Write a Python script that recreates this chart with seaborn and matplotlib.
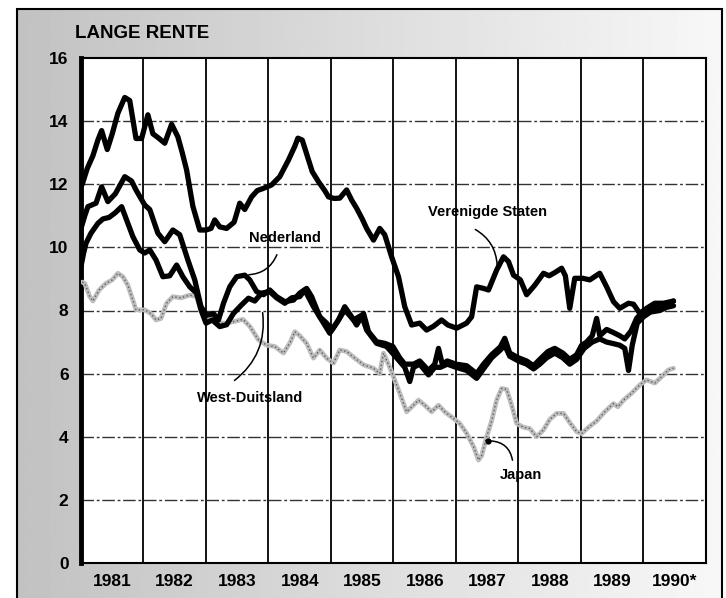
import numpy as np
import pandas as pd
import matplotlib
matplotlib.use('Agg')
import matplotlib.pyplot as plt
import seaborn as sns
from matplotlib.patches import Rectangle

# lange rente (%)
us_t = [1981.02, 1981.10, 1981.19, 1981.27, 1981.33, 1981.42, 1981.50, 1981.59, 1981.70, 1981.78,
        1981.88, 1981.97, 1982.07, 1982.15, 1982.25, 1982.34, 1982.45, 1982.55, 1982.62, 1982.69,
        1982.79, 1982.90, 1983.00, 1983.08, 1983.14, 1983.22, 1983.33, 1983.45, 1983.54, 1983.62,
        1983.73, 1983.82, 1983.92, 1984.05, 1984.18, 1984.32, 1984.42, 1984.47, 1984.54, 1984.62,
        1984.70, 1984.80, 1984.90, 1984.96, 1985.05, 1985.14, 1985.25, 1985.33, 1985.41, 1985.50,
        1985.57, 1985.68, 1985.78, 1985.86, 1985.97, 1986.08, 1986.18, 1986.29, 1986.42, 1986.53,
        1986.64, 1986.77, 1986.87, 1987.01, 1987.17, 1987.25, 1987.33, 1987.44, 1987.52, 1987.65,
        1987.76, 1987.84, 1987.92, 1988.03, 1988.13, 1988.26, 1988.40, 1988.49, 1988.58, 1988.69,
        1988.75, 1988.82, 1988.90, 1989.03, 1989.14, 1989.30, 1989.41, 1989.52, 1989.62, 1989.76,
        1989.84, 1989.94, 1990.05, 1990.18, 1990.32, 1990.48]
us_v = [12.0, 12.5, 12.9, 13.4, 13.7, 13.1, 13.6, 14.25, 14.75, 14.65,
        13.45, 13.45, 14.2, 13.6, 13.45, 13.3, 13.9, 13.5, 13.0, 12.45,
        11.3, 10.55, 10.55, 10.6, 10.87, 10.65, 10.6, 10.8, 11.4, 11.2,
        11.6, 11.8, 11.87, 11.98, 12.24, 12.77, 13.2, 13.46, 13.4, 12.9,
        12.4, 12.08, 11.8, 11.6, 11.55, 11.56, 11.82, 11.5, 11.24, 10.9,
        10.6, 10.23, 10.6, 10.4, 9.7, 9.07, 8.12, 7.54, 7.6, 7.38,
        7.5, 7.7, 7.54, 7.44, 7.6, 7.8, 8.75, 8.7, 8.65, 9.28,
        9.7, 9.55, 9.12, 8.97, 8.5, 8.8, 9.18, 9.1, 9.2, 9.34,
        9.1, 8.07, 9.02, 9.02, 8.97, 9.18, 8.75, 8.28, 8.07, 8.23,
        8.2, 7.91, 8.07, 8.23, 8.23, 8.3]

nl_t = [1981.00, 1981.06, 1981.11, 1981.24, 1981.33, 1981.43, 1981.55, 1981.70, 1981.81, 1981.88,
        1982.02, 1982.10, 1982.23, 1982.34, 1982.47, 1982.58, 1982.71, 1982.82, 1982.92, 1983.01,
        1983.12, 1983.20, 1983.28, 1983.38, 1983.49, 1983.62, 1983.70, 1983.81, 1983.92, 1984.02,
        1984.13, 1984.26, 1984.40, 1984.50, 1984.61, 1984.69, 1984.82, 1984.93, 1985.01, 1985.12,
        1985.22, 1985.33, 1985.41, 1985.52, 1985.60, 1985.73, 1985.86, 1985.99, 1986.10, 1986.18,
        1986.32, 1986.42, 1986.56, 1986.66, 1986.72, 1986.78, 1986.86, 1987.00, 1987.17, 1987.33,
        1987.44, 1987.57, 1987.71, 1987.78, 1987.86, 1988.00, 1988.13, 1988.24, 1988.34, 1988.47,
        1988.58, 1988.71, 1988.82, 1988.93, 1989.01, 1989.09, 1989.18, 1989.25, 1989.30, 1989.41,
        1989.52, 1989.62, 1989.70, 1989.80, 1989.89, 1989.98, 1990.11, 1990.26, 1990.37, 1990.48]
nl_v = [10.6, 11.0, 11.29, 11.4, 11.92, 11.45, 11.7, 12.24, 12.1, 11.82,
        11.34, 11.2, 10.45, 10.18, 10.55, 10.4, 9.6, 8.97, 8.12, 7.85,
        7.9, 7.7, 8.23, 8.75, 9.07, 9.12, 8.97, 8.6, 8.5, 8.65,
        8.44, 8.28, 8.33, 8.55, 8.7, 8.44, 7.8, 7.6, 7.38, 7.7,
        8.12, 7.8, 7.54, 7.91, 7.33, 7.01, 6.96, 6.86, 6.5, 6.3,
        6.3, 6.4, 6.1, 6.3, 6.8, 6.3, 6.4, 6.3, 6.25, 6.0,
        6.3, 6.6, 6.85, 7.12, 6.65, 6.5, 6.4, 6.25, 6.45, 6.7,
        6.8, 6.65, 6.45, 6.6, 6.9, 7.0, 7.2, 7.75, 7.2, 7.4,
        7.3, 7.2, 7.1, 7.35, 7.75, 7.95, 8.05, 8.15, 8.2, 8.3]

wd_t = [1981.00, 1981.04, 1981.08, 1981.16, 1981.27, 1981.35, 1981.45, 1981.55, 1981.65, 1981.75,
        1981.83, 1981.94, 1982.02, 1982.10, 1982.20, 1982.31, 1982.42, 1982.53, 1982.63, 1982.74,
        1982.85, 1982.92, 1983.00, 1983.10, 1983.22, 1983.33, 1983.44, 1983.57, 1983.68, 1983.78,
        1983.89, 1984.02, 1984.13, 1984.26, 1984.37, 1984.50, 1984.58, 1984.72, 1984.85, 1984.98,
        1985.09, 1985.22, 1985.36, 1985.49, 1985.57, 1985.73, 1985.89, 1986.05, 1986.18, 1986.26,
        1986.32, 1986.42, 1986.56, 1986.66, 1986.75, 1986.86, 1987.00, 1987.17, 1987.33, 1987.44,
        1987.57, 1987.71, 1987.78, 1987.86, 1988.00, 1988.13, 1988.24, 1988.34, 1988.45, 1988.58,
        1988.71, 1988.82, 1988.93, 1989.05, 1989.18, 1989.30, 1989.41, 1989.52, 1989.62, 1989.70,
        1989.76, 1989.82, 1989.90, 1990.00, 1990.11, 1990.26, 1990.37, 1990.48]
wd_v = [9.4, 9.8, 10.13, 10.45, 10.76, 10.9, 10.95, 11.1, 11.29, 10.76,
        10.34, 9.92, 9.82, 9.92, 9.6, 9.07, 9.1, 9.44, 9.07, 8.75,
        8.55, 8.02, 7.6, 7.7, 7.49, 7.55, 7.91, 8.18, 8.39, 8.3,
        8.55, 8.6, 8.4, 8.23, 8.4, 8.44, 8.65, 8.12, 7.7, 7.28,
        7.6, 8.02, 7.7, 7.85, 7.38, 6.96, 6.86, 6.5, 6.2, 5.75,
        6.2, 6.3, 5.96, 6.2, 6.2, 6.3, 6.2, 6.1, 5.85, 6.15,
        6.5, 6.75, 6.9, 6.55, 6.4, 6.3, 6.15, 6.3, 6.5, 6.65,
        6.5, 6.3, 6.45, 6.8, 7.0, 7.1, 7.0, 6.95, 6.9, 6.8,
        6.1, 6.9, 7.6, 7.8, 7.95, 8.0, 8.1, 8.15]

jp_t = [1981.02, 1981.06, 1981.14, 1981.19, 1981.29, 1981.40, 1981.50, 1981.59, 1981.67, 1981.75,
        1981.83, 1981.88, 1982.02, 1982.12, 1982.20, 1982.28, 1982.37, 1982.47, 1982.60, 1982.74,
        1982.85, 1982.92, 1983.00, 1983.08, 1983.18, 1983.32, 1983.45, 1983.59, 1983.70, 1983.84,
        1983.97, 1984.10, 1984.24, 1984.35, 1984.42, 1984.50, 1984.61, 1984.72, 1984.82, 1984.93,
        1985.04, 1985.14, 1985.25, 1985.38, 1985.52, 1985.68, 1985.78, 1985.84, 1985.94, 1986.00,
        1986.10, 1986.21, 1986.32, 1986.40, 1986.50, 1986.61, 1986.72, 1986.82, 1986.96, 1987.06,
        1987.17, 1987.28, 1987.36, 1987.41, 1987.49, 1987.57, 1987.65, 1987.73, 1987.81, 1987.89,
        1987.97, 1988.08, 1988.18, 1988.29, 1988.40, 1988.50, 1988.61, 1988.72, 1988.82, 1988.93,
        1989.01, 1989.12, 1989.25, 1989.38, 1989.52, 1989.59, 1989.68, 1989.81, 1989.94, 1990.05,
        1990.18, 1990.29, 1990.40, 1990.48]
jp_v = [8.9, 8.86, 8.44, 8.3, 8.65, 8.86, 8.97, 9.18, 9.07, 8.8,
        8.33, 8.02, 8.02, 7.9, 7.7, 7.75, 8.23, 8.44, 8.4, 8.49,
        8.44, 8.0, 7.75, 7.85, 7.6, 7.6, 7.65, 7.72, 7.5, 7.07,
        6.9, 6.86, 6.65, 7.0, 7.33, 7.2, 6.96, 6.49, 6.75, 6.49,
        6.33, 6.75, 6.7, 6.49, 6.28, 6.17, 6.0, 6.65, 6.2, 5.9,
        5.38, 4.79, 5.0, 5.16, 5.0, 4.79, 5.0, 4.79, 4.58, 4.42,
        4.11, 3.69, 3.26, 3.4, 4.0, 4.5, 5.16, 5.53, 5.5, 5.0,
        4.42, 4.3, 4.26, 4.0, 4.22, 4.55, 4.74, 4.74, 4.45, 4.16,
        4.1, 4.3, 4.5, 4.79, 5.05, 4.95, 5.16, 5.38, 5.64, 5.8,
        5.7, 5.9, 6.12, 6.17]

years = list(range(1981, 1991))
year_labels = ['1981', '1982', '1983', '1984', '1985', '1986', '1987', '1988', '1989', '1990*']
y_ticks = list(range(0, 17, 2))

# labels met aanwijslijn: tekstpositie, begin lijn, eind lijn
labels = {
    'Verenigde Staten': ((1987.50, 11.12), (1987.27, 10.61), (1987.66, 9.35), -0.3),
    'Nederland': ((1984.26, 10.30), (1984.15, 9.85), (1983.64, 9.13), -0.35),
    'West-Duitsland': ((1983.70, 5.23), (1983.42, 5.73), (1983.90, 8.02), 0.3),
    'Japan': ((1988.04, 2.79), (1987.91, 3.17), (1987.51, 3.87), 0.45),
}

sns.set_style('white')
plt.rcParams['font.family'] = ['Liberation Sans', 'DejaVu Sans']
plt.rcParams['font.weight'] = 'bold'
plt.rcParams['text.color'] = 'black'
plt.rcParams['xtick.color'] = 'black'
plt.rcParams['ytick.color'] = 'black'

fig = plt.figure(figsize=(7.26, 5.98), dpi=100)
fig.patch.set_facecolor('white')

# grijze achtergrond (scan)
bg = fig.add_axes([0.0234, 0, 0.971, 0.985], zorder=-5)
grad = np.linspace(0.76, 0.97, 256).reshape(1, -1)
bg.imshow(grad, aspect='auto', cmap='gray', vmin=0, vmax=1, extent=[0, 1, 0, 1])
bg.axis('off')
fig.patches.append(Rectangle((0.0234, -0.02), 0.971, 1.005, transform=fig.transFigure,
                             fill=False, edgecolor='black', linewidth=1.5, zorder=5))

ax = fig.add_axes([81 / 726, 1 - 563 / 598, 625 / 726, 505 / 598])
ax.set_facecolor('white')

df_jp = pd.DataFrame({'jaar': jp_t, 'rente': jp_v})
sns.lineplot(data=df_jp, x='jaar', y='rente', ax=ax, color='#bdbdbd', linewidth=3.4,
             sort=False, zorder=3)
sns.lineplot(data=df_jp, x='jaar', y='rente', ax=ax, color='#606060', linewidth=1.0,
             linestyle=(0, (1, 1.8)), sort=False, zorder=3)

for t, v in [(us_t, us_v), (nl_t, nl_v), (wd_t, wd_v)]:
    d = pd.DataFrame({'jaar': t, 'rente': v})
    sns.lineplot(data=d, x='jaar', y='rente', ax=ax, color='black', linewidth=3.8,
                 sort=False, zorder=4, solid_joinstyle='round', solid_capstyle='round')

ax.set_xlim(1981, 1991)
ax.set_ylim(0, 16)

for yr in years[1:]:
    ax.axvline(yr, color='black', linewidth=1.3, zorder=1)
for yv in y_ticks[1:-1]:
    ax.axhline(yv, color='#333333', linewidth=1.0, linestyle=(0, (9, 2, 2, 2)), zorder=1)

ax.set_xticks([y + 0.5 for y in years])
ax.set_xticklabels(year_labels, fontsize=12.5, fontweight='bold')
ax.set_yticks(y_ticks)
ax.set_yticklabels([str(v) for v in y_ticks], fontsize=12.5, fontweight='bold')
ax.tick_params(axis='both', length=0)
ax.tick_params(axis='x', pad=8)
ax.tick_params(axis='y', pad=9)
ax.set_xlabel('')
ax.set_ylabel('')

for side in ['top', 'right', 'bottom']:
    ax.spines[side].set_color('black')
    ax.spines[side].set_linewidth(1.5)
ax.spines['left'].set_color('black')
ax.spines['left'].set_linewidth(3.5)

for name, (txt, start, end, rad) in labels.items():
    ax.text(txt[0], txt[1], name, ha='center', va='center', fontsize=10.5,
            fontweight='bold', zorder=6)
    ax.annotate('', xy=end, xytext=start,
                arrowprops=dict(arrowstyle='-', color='black', linewidth=1.1,
                                connectionstyle=f'arc3,rad={rad}'), zorder=6)
jp_tip = labels['Japan'][2]
ax.plot([jp_tip[0]], [jp_tip[1]], 'o', color='black', markersize=3.5, zorder=6)

fig.text(75 / 726, 1 - 33 / 598, 'LANGE RENTE', fontsize=13.5, fontweight='bold',
         ha='left', va='center')

fig.savefig('out.png', dpi=100, facecolor=fig.get_facecolor())
